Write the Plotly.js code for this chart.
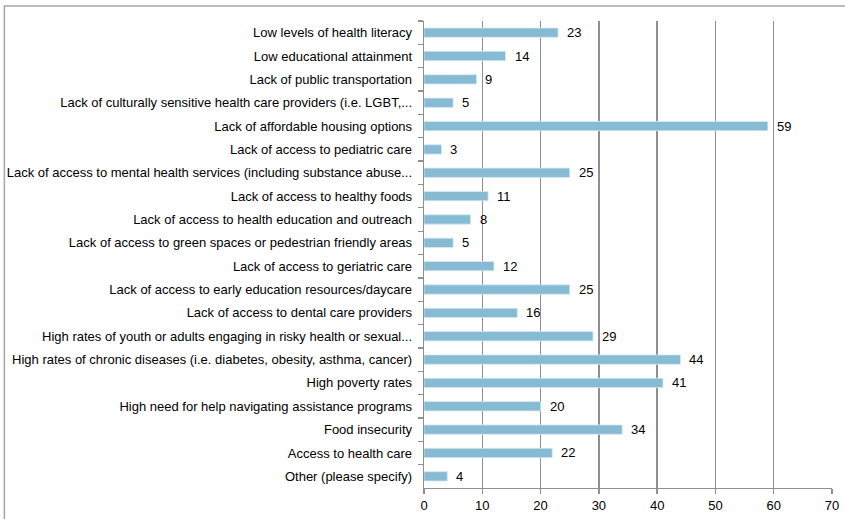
<!DOCTYPE html>
<html><head><meta charset="utf-8">
<script src="https://cdn.plot.ly/plotly-3.0.1.min.js"></script>
<style>html,body{margin:0;padding:0;background:#fff;}#chart{width:845px;height:519px;}</style>
</head><body><div id="chart"></div>
<script>
const categories = [
  "Low levels of health literacy",
  "Low educational attainment",
  "Lack of public transportation",
  "Lack of culturally sensitive health care providers (i.e. LGBT,...",
  "Lack of affordable housing options",
  "Lack of access to pediatric care",
  "Lack of access to mental health services (including substance abuse...",
  "Lack of access to healthy foods",
  "Lack of access to health education and outreach",
  "Lack of access to green spaces or pedestrian friendly areas",
  "Lack of access to geriatric care",
  "Lack of access to early education resources/daycare",
  "Lack of access to dental care providers",
  "High rates of youth or adults engaging in risky health or sexual...",
  "High rates of chronic diseases (i.e. diabetes, obesity, asthma, cancer)",
  "High poverty rates",
  "High need for help navigating assistance programs",
  "Food insecurity",
  "Access to health care",
  "Other (please specify)"
];
const values = [23, 14, 9, 5, 59, 3, 25, 11, 8, 5, 12, 25, 16, 29, 44, 41, 20, 34, 22, 4];
const xTicks = [0, 10, 20, 30, 40, 50, 60, 70];

const fontFam = "Liberation Sans, Arial, sans-serif";
const gridCol = "#8f8f8f";

const trace = {
  type: "bar",
  orientation: "h",
  y: categories,
  x: values,
  marker: {color: "#86bbd3", line: {color: "#d6eaf2", width: 0.8}},
  hoverinfo: "none",
  cliponaxis: false
};

const annotations = values.map((v, i) => ({
  x: v, y: categories[i], xref: "x", yref: "y",
  text: String(v), showarrow: false, xanchor: "left", xshift: 7,
  font: {family: fontFam, size: 13, color: "#000"}
}));

const layout = {
  width: 845, height: 519,
  margin: {l: 424, r: 13, t: 21, b: 31, pad: 0},
  paper_bgcolor: "#fff", plot_bgcolor: "#fff",
  showlegend: false,
  bargap: 0.6,
  font: {family: fontFam, size: 13, color: "#000"},
  xaxis: {
    range: [0, 70], tickvals: xTicks, ticktext: xTicks.map(String),
    showgrid: true, gridcolor: gridCol, gridwidth: 1.3,
    zeroline: false, showline: true, linecolor: gridCol, linewidth: 1.3,
    ticks: "outside", ticklen: 5, tickcolor: gridCol, tickwidth: 1.3,
    tickfont: {family: fontFam, size: 13, color: "#000"},
    fixedrange: true
  },
  yaxis: {
    type: "category", autorange: "reversed",
    showgrid: false, zeroline: false,
    showline: true, linecolor: gridCol, linewidth: 1.3,
    ticks: "outside", ticklen: 5, tickcolor: gridCol, tickwidth: 1.3,
    tickson: "boundaries", ticklabelstandoff: 8,
    tickfont: {family: fontFam, size: 13, color: "#000"},
    fixedrange: true
  },
  annotations: annotations,
  shapes: [
    {type: "line", xref: "paper", yref: "paper", x0: -1.03, x1: 1.2, y0: 1.032, y1: 1.032,
     line: {color: "#a6a6a6", width: 1.5}, layer: "below"},
    {type: "line", xref: "paper", yref: "paper", x0: -1.0285, x1: -1.0285, y0: 1.032, y1: -0.2,
     line: {color: "#a6a6a6", width: 1.5}, layer: "below"}
  ]
};

Plotly.newPlot("chart", [trace], layout, {displayModeBar: false, staticPlot: true});
</script></body></html>
